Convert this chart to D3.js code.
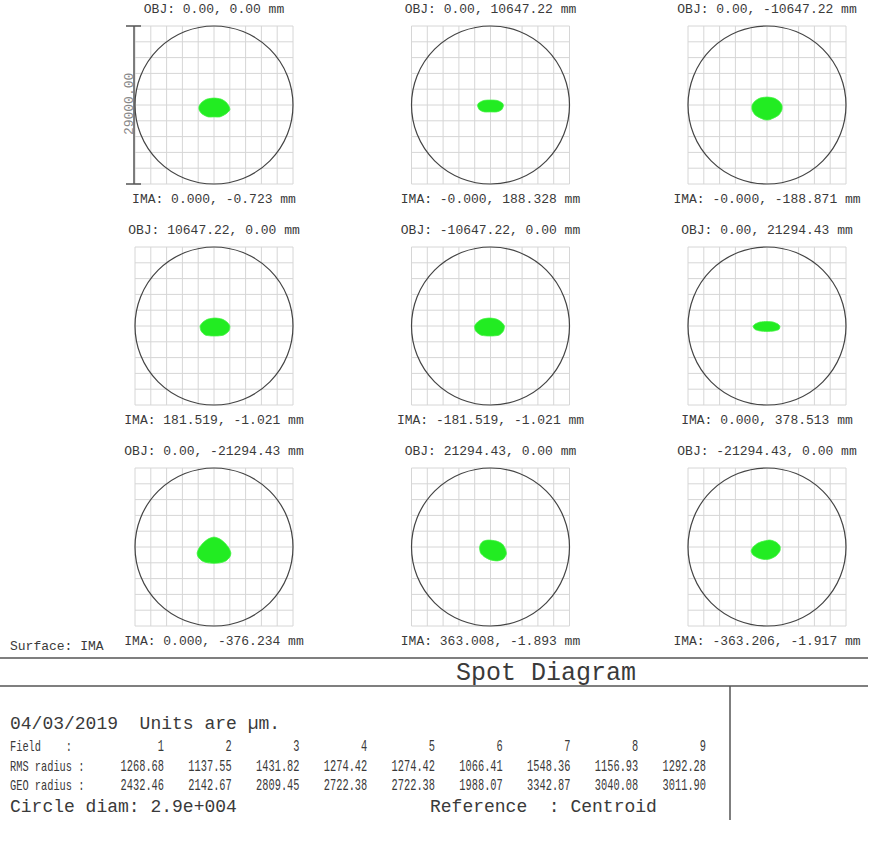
<!DOCTYPE html>
<html>
<head>
<meta charset="utf-8">
<script src="https://cdn.jsdelivr.net/npm/d3@7"></script>
<style>
  body { margin: 0; background: #fff; }
  svg { display: block; }
  text { font-family: "Liberation Mono", "DejaVu Sans Mono", monospace; fill: #3a3a3a; white-space: pre; }
  .grid line { stroke: #d6d6d6; stroke-width: 1; }
</style>
</head>
<body>
<svg id="chart" width="877" height="846"></svg>
<script>
// field angles / image positions (mm)
var objLabels = [
  "OBJ: 0.00, 0.00 mm", "OBJ: 0.00, 10647.22 mm", "OBJ: 0.00, -10647.22 mm",
  "OBJ: 10647.22, 0.00 mm", "OBJ: -10647.22, 0.00 mm", "OBJ: 0.00, 21294.43 mm",
  "OBJ: 0.00, -21294.43 mm", "OBJ: 21294.43, 0.00 mm", "OBJ: -21294.43, 0.00 mm"
];
var imaLabels = [
  "IMA: 0.000, -0.723 mm", "IMA: -0.000, 188.328 mm", "IMA: -0.000, -188.871 mm",
  "IMA: 181.519, -1.021 mm", "IMA: -181.519, -1.021 mm", "IMA: 0.000, 378.513 mm",
  "IMA: 0.000, -376.234 mm", "IMA: 363.008, -1.893 mm", "IMA: -363.206, -1.917 mm"
];

var fields = [1, 2, 3, 4, 5, 6, 7, 8, 9];
var rmsRadius = [1268.68, 1137.55, 1431.82, 1274.42, 1274.42, 1066.41, 1548.36, 1156.93, 1292.28];
var geoRadius = [2432.46, 2142.67, 2809.45, 2722.38, 2722.38, 1988.07, 3342.87, 3040.08, 3011.90];
var circleDiam = 29000; // µm

// spot outlines, µm relative to box centre (y up)
var spot1 = [[0,1270],[-1270,1090],[-2180,550],[-2730,-180],[-2730,-910],[-2180,-1640],[-1090,-2180],[0,-2180],[1090,-2180],[2180,-1640],[2910,-910],[2730,-180],[2180,550],[1270,1090]];
var spot2 = [[0,910],[-1270,820],[-2180,360],[-2370,-180],[-2000,-910],[-1090,-1270],[0,-1270],[1090,-1270],[2000,-910],[2370,-180],[2180,360],[1270,820]];
var spot3 = [[0,1460],[-1270,1270],[-2180,730],[-2730,0],[-2730,-910],[-2180,-1820],[-1270,-2370],[-360,-2730],[360,-2730],[1270,-2370],[2180,-1820],[2730,-910],[2730,0],[2180,730],[1270,1270]];
var spot4 = [[180,1460],[-1090,1270],[-2000,730],[-2550,0],[-2370,-910],[-1640,-1640],[-550,-1820],[730,-1820],[1820,-1640],[2730,-910],[2910,0],[2370,730],[1460,1270]];
var spot5 = [[-180,1460],[1090,1270],[2000,730],[2550,0],[2370,-910],[1640,-1640],[550,-1820],[-730,-1820],[-1820,-1640],[-2730,-910],[-2910,0],[-2370,730],[-1460,1270]];
var spot6 = [[0,820],[-1270,730],[-2180,360],[-2550,-90],[-2180,-640],[-1270,-910],[0,-1000],[1270,-910],[2180,-640],[2370,-90],[2000,360],[1090,730]];
var spot7 = [[0,1820],[-1090,1460],[-2000,730],[-2730,-180],[-3100,-1090],[-2910,-1820],[-2180,-2550],[-1090,-2910],[0,-3000],[1090,-2910],[2180,-2550],[2910,-1820],[3100,-1090],[2730,-180],[2000,730],[1090,1460]];
var spot8 = [[-360,1270],[-1270,1090],[-1820,550],[-2000,-180],[-1820,-1090],[-1090,-1820],[0,-2370],[1270,-2550],[2370,-2180],[2910,-1270],[2730,-360],[2180,550],[1090,1090]];
var spot9 = [[550,1270],[-550,1090],[-1640,730],[-2550,0],[-2910,-730],[-2550,-1460],[-1640,-2000],[-550,-2280],[550,-2180],[1640,-1640],[2370,-730],[2370,180],[1640,910]];
var spots = [spot1, spot2, spot3, spot4, spot5, spot6, spot7, spot8, spot9];

var svg = d3.select("#chart");
var boxSize = 158;

var colX = d3.scalePoint().domain([0, 1, 2]).range([214, 767]);
var rowY = d3.scalePoint().domain([0, 1, 2]).range([105, 547]);

var x = d3.scaleLinear().domain([-circleDiam / 2, circleDiam / 2]).range([-boxSize / 2, boxSize / 2]);
var y = d3.scaleLinear().domain([-circleDiam / 2, circleDiam / 2]).range([boxSize / 2, -boxSize / 2]);

var line = d3.line()
  .x(function (d) { return x(d[0]); })
  .y(function (d) { return y(d[1]); })
  .curve(d3.curveCardinalClosed.tension(0.3));

var gridTicks = d3.range(-circleDiam / 2, circleDiam / 2 + 1, circleDiam / 10);

fields.forEach(function (f, i) {
  var cx = colX(i % 3), cy = rowY(Math.floor(i / 3));
  var g = svg.append("g").attr("transform", "translate(" + cx + "," + cy + ")");

  var grid = g.append("g").attr("class", "grid");
  grid.selectAll("line.v").data(gridTicks).enter().append("line")
    .attr("class", "v")
    .attr("x1", function (d) { return x(d); }).attr("x2", function (d) { return x(d); })
    .attr("y1", y(-circleDiam / 2)).attr("y2", y(circleDiam / 2));
  grid.selectAll("line.h").data(gridTicks).enter().append("line")
    .attr("class", "h")
    .attr("y1", function (d) { return y(d); }).attr("y2", function (d) { return y(d); })
    .attr("x1", x(-circleDiam / 2)).attr("x2", x(circleDiam / 2));

  g.append("circle")
    .attr("r", x(circleDiam / 2))
    .attr("fill", "none")
    .attr("stroke", "#444")
    .attr("stroke-width", 1.2);

  g.append("path")
    .attr("d", line(spots[i]))
    .attr("fill", "#22ec22")
    .attr("stroke", "#44f244")
    .attr("stroke-width", 0.8);

  g.append("text")
    .attr("text-anchor", "middle")
    .attr("y", -boxSize / 2 - 13)
    .style("font-size", "13px")
    .text(objLabels[i]);

  g.append("text")
    .attr("text-anchor", "middle")
    .attr("y", boxSize / 2 + 19)
    .style("font-size", "13px")
    .text(imaLabels[i]);

  // scale bar on the first plot
  if (i === 0) {
    var bx = x(-circleDiam / 2) - 1;
    g.append("line").attr("x1", bx).attr("x2", bx)
      .attr("y1", y(circleDiam / 2)).attr("y2", y(-circleDiam / 2))
      .attr("stroke", "#555").attr("stroke-width", 1.5);
    [circleDiam / 2, -circleDiam / 2].forEach(function (v) {
      g.append("line").attr("x1", bx - 8).attr("x2", bx + 7)
        .attr("y1", y(v)).attr("y2", y(v))
        .attr("stroke", "#555").attr("stroke-width", 1.5);
    });
    g.append("text")
      .attr("transform", "translate(" + (bx - 1) + "," + y(200) + ") rotate(-90)")
      .attr("text-anchor", "middle")
      .style("font-size", "13px")
      .style("fill", "#888")
      .text(d3.format(".2f")(circleDiam));
  }
});

svg.append("text").attr("x", 10).attr("y", 650)
  .style("font-size", "13px").text("Surface: IMA");

// footer frame
svg.append("line").attr("x1", 0).attr("x2", 868).attr("y1", 658).attr("y2", 658)
  .attr("stroke", "#555").attr("stroke-width", 1.5);
svg.append("line").attr("x1", 0).attr("x2", 868).attr("y1", 686).attr("y2", 686)
  .attr("stroke", "#555").attr("stroke-width", 1.5);
svg.append("line").attr("x1", 730).attr("x2", 730).attr("y1", 686).attr("y2", 820)
  .attr("stroke", "#555").attr("stroke-width", 1.5);

svg.append("text").attr("x", 546).attr("y", 680).attr("text-anchor", "middle")
  .style("font-size", "25px").text("Spot Diagram");

svg.append("text").attr("x", 10).attr("y", 729)
  .style("font-size", "18px").text("04/03/2019  Units are \u00b5m.");

var colEnd = d3.scalePoint().domain(fields).range([164, 706]);
var charW = 6.2;

// condensed table text: squeeze glyphs to ~6.2px per character
function narrow(txt, px, py, anchor, size) {
  svg.append("text")
    .attr("x", px).attr("y", py)
    .attr("text-anchor", anchor)
    .attr("textLength", txt.length * charW)
    .attr("lengthAdjust", "spacingAndGlyphs")
    .style("font-size", size + "px")
    .text(txt);
}

var rows = [
  { label: "Field    :", vals: fields.map(String), y: 751 },
  { label: "RMS radius :", vals: rmsRadius.map(d3.format(".2f")), y: 771 },
  { label: "GEO radius :", vals: geoRadius.map(d3.format(".2f")), y: 790 }
];
rows.forEach(function (r) {
  narrow(r.label, 10, r.y, "start", 15);
  r.vals.forEach(function (v, j) { narrow(v, colEnd(fields[j]), r.y, "end", 17); });
});

svg.append("text").attr("x", 10).attr("y", 812)
  .style("font-size", "18px").text("Circle diam: 2.9e+004");
svg.append("text").attr("x", 430).attr("y", 812)
  .style("font-size", "18px").text("Reference  : Centroid");
</script>
</body>
</html>
